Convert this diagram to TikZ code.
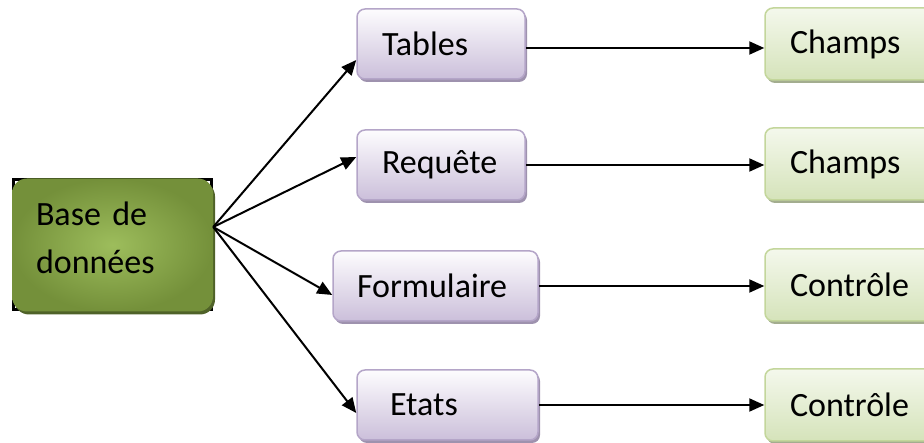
\documentclass[tikz,border=0pt]{standalone}
\usepackage{fontspec}
\setmainfont{Carlito}
\usetikzlibrary{shadows,arrows.meta,calc}

\definecolor{olivein}{HTML}{9DBD5C}
\definecolor{oliveout}{HTML}{74903A}
\definecolor{olivedark}{HTML}{4F6228}
\definecolor{lavtop}{HTML}{FDFCFE}
\definecolor{lavbot}{HTML}{CBBFDA}
\definecolor{lavline}{HTML}{B4A5C8}
\definecolor{lavshadow}{HTML}{9E92AE}
\definecolor{gtop}{HTML}{F4F8EC}
\definecolor{gbot}{HTML}{D5E3BA}
\definecolor{gline}{HTML}{C3D69B}
\definecolor{gshadow}{HTML}{A3AD8F}

\tikzset{
  every node/.style={font=\fontsize{34}{48}\selectfont, text=black},
  objbox/.style={rounded corners=8pt, draw=lavline, line width=1.5pt,
    top color=lavtop, bottom color=lavbot,
    general shadow={shadow xshift=2pt, shadow yshift=-3pt, fill=lavshadow},
    minimum height=70pt, inner xsep=25pt, align=left},
  partbox/.style={rounded corners=8pt, draw=gline, line width=1.5pt,
    top color=gtop, bottom color=gbot,
    general shadow={shadow xshift=2pt, shadow yshift=-3pt, fill=gshadow},
    minimum height=72pt, inner xsep=25pt, text width=130pt, align=left},
  link/.style={line width=2pt, -{Triangle[length=15pt,width=13pt]}},
}

\begin{document}
\begin{tikzpicture}[x=1pt,y=-1pt]
\useasboundingbox (0,0) rectangle (924,443);
\clip (0,0) rectangle (924,443);

% square black frame whose corners peek out behind the rounded box
\draw[line width=3pt, black] (13.5,179.5) rectangle (211.5,309.5);
\node[rounded corners=15pt, inner color=olivein, outer color=oliveout,
  general shadow={shadow xshift=2pt, shadow yshift=-3pt, fill=olivedark},
  minimum height=133pt, inner xsep=24pt, text width=153pt, align=left,
  text height=25pt, text depth=64pt]
  (base) at (112.5,245) {Base de\\données};

% middle column
\node[objbox, text width=118pt] (tab) at (441,44) {Tables};
\node[objbox, text width=118pt] (req) at (441,165) {Requête};
\node[objbox, text width=157pt, inner xsep=24pt] (form) at (435.5,286) {Formulaire};
\node[objbox, text width=115pt, inner xsep=33pt] (etat) at (447.5,405) {Etats};

% right column
\node[partbox] (ch1) at (855,44) {Champs};
\node[partbox] (ch2) at (855,164) {Champs};
\node[partbox] (ct1) at (855,285) {Contrôle};
\node[partbox] (ct2) at (855,405) {Contrôle};

% fan-out from the database
\coordinate (hub) at ([yshift=18pt]base.east);
\draw[link] (hub) -- ([yshift=-16pt]tab.west);
\draw[link] (hub) -- ([yshift=8pt]req.west);
\draw[link] (hub) -- ([yshift=-9pt]form.west);
\draw[link] (hub) -- ([yshift=-8pt]etat.west);

% object to component
\draw[link] ([yshift=-4pt]tab.east) -- ([yshift=-4pt]tab.east -| ch1.west);
\draw[link] (req.east) -- (req.east -| ch2.west);
\draw[link] (form.east) -- (form.east -| ct1.west);
\draw[link] (etat.east) -- (etat.east -| ct2.west);
\end{tikzpicture}
\end{document}
